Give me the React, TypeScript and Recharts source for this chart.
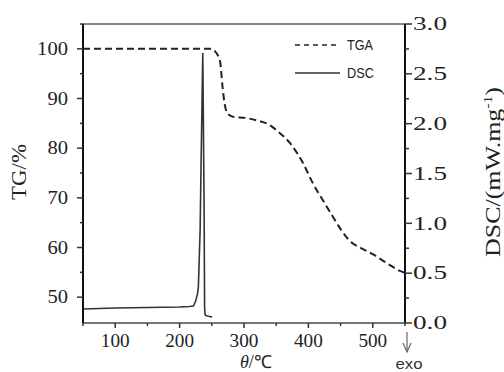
import { LineChart, Line, XAxis, YAxis, Legend, ReferenceLine } from 'recharts';

// TGA curve (temperature °C -> mass %)
const TGA_T = [50, 150, 247.6, 255, 262.9, 266.4, 269.5, 274.2, 283.5, 301.6, 319.8, 337.8, 353.3, 374, 392, 407.5, 423, 438.5, 451.5, 464.4, 480, 500.5, 521.3, 542, 550];
const TGA_V = [100, 100, 100, 99.5, 97.4, 92.7, 89.3, 87, 86.3, 86.1, 85.6, 84.8, 83.3, 80.6, 76.9, 72.8, 69.4, 66.1, 63.4, 61.3, 60, 58.6, 56.9, 55.3, 54.9];

// DSC curve (temperature °C -> mW/mg)
const DSC_T = [50, 100, 150, 200, 215, 221.5, 225, 228, 229.2, 231.9, 233.4, 236, 238, 238.8, 239.6, 243, 250.5];
const DSC_V = [0.14, 0.15, 0.155, 0.16, 0.165, 0.17, 0.22, 0.3, 0.37, 0.94, 1.62, 2.71, 1.21, 0.16, 0.08, 0.07, 0.06];

const X_MAJOR = [100, 200, 300, 400, 500];
const X_MINOR = [50, 150, 250, 350, 450, 550];
const TG_MAJOR = [50, 60, 70, 80, 90, 100];
const TG_MINOR = [55, 65, 75, 85, 95, 105];
const DSC_MAJOR = [0, 0.5, 1, 1.5, 2, 2.5, 3];
const DSC_MINOR = [0.25, 0.75, 1.25, 1.75, 2.25, 2.75];

const tgaData = TGA_T.map((t, i) => ({ t, tg: TGA_V[i] }));
const dscData = DSC_T.map((t, i) => ({ t, dsc: DSC_V[i] }));

const serif = '"Liberation Serif", "Times New Roman", serif';
const sans = '"Liberation Sans", Arial, sans-serif';

const XTick = ({ x, y, payload }: any) => {
  const major = X_MAJOR.includes(payload.value);
  const s = String(payload.value);
  return (
    <g>
      <line x1={x} x2={x} y1={y} y2={y + (major ? 5 : 3)} stroke="#333" strokeWidth={1.5} />
      {major && (
        <text x={x} y={y + 24} textAnchor="middle" fontFamily={serif} fontSize={18} fill="#222"
          textLength={s.length * 9.6} lengthAdjust="spacingAndGlyphs">
          {s}
        </text>
      )}
    </g>
  );
};

const TgTick = ({ x, y, payload }: any) => {
  const major = TG_MAJOR.includes(payload.value);
  const s = String(payload.value);
  return (
    <g>
      <line x1={x} x2={x - (major ? 6 : 3)} y1={y} y2={y} stroke="#333" strokeWidth={1.5} />
      {major && (
        <text x={x - 15} y={y} dy="0.35em" textAnchor="end" fontFamily={serif} fontSize={18} fill="#222"
          textLength={s.length * 10.3} lengthAdjust="spacingAndGlyphs">
          {s}
        </text>
      )}
    </g>
  );
};

const DscTick = ({ x, y, payload }: any) => {
  const major = DSC_MAJOR.includes(payload.value);
  return (
    <g>
      <line x1={x} x2={x + (major ? 7 : 4)} y1={y} y2={y} stroke="#333" strokeWidth={1.5} />
      {major && (
        <text x={x + 8} y={y} dy="0.35em" textAnchor="start" fontFamily={serif} fontSize={18} fill="#222"
          textLength={34} lengthAdjust="spacingAndGlyphs">
          {payload.value.toFixed(1)}
        </text>
      )}
    </g>
  );
};

const LegendBox = () => (
  <svg width={90} height={50}>
    <line x1={0} x2={45} y1={10} y2={10} stroke="#222" strokeWidth={1.5} strokeDasharray="5 4" />
    <text x={52} y={15} fontFamily={sans} fontSize={15} fill="#222" textLength={26} lengthAdjust="spacingAndGlyphs">TGA</text>
    <line x1={0} x2={45} y1={38} y2={38} stroke="#333" strokeWidth={1.5} />
    <text x={52} y={43} fontFamily={sans} fontSize={15} fill="#222" textLength={27} lengthAdjust="spacingAndGlyphs">DSC</text>
  </svg>
);

export default function App() {
  return (
    <div style={{ position: 'absolute', left: 0, top: 0, width: 504, height: 372, background: '#fff' }}>
      <LineChart width={504} height={372} margin={{ top: 24, right: 39, bottom: 19, left: 23 }}>
        <XAxis
          dataKey="t"
          type="number"
          domain={[50, 550]}
          ticks={[...X_MINOR, ...X_MAJOR].sort((a, b) => a - b)}
          interval={0}
          height={30}
          tickSize={0}
          tickMargin={0}
          tick={<XTick />}
          axisLine={{ stroke: '#777', strokeWidth: 2 }}
          allowDataOverflow
        />
        <YAxis
          yAxisId="tg"
          domain={[44.8, 105]}
          ticks={[...TG_MAJOR, ...TG_MINOR].sort((a, b) => a - b)}
          interval={0}
          width={60}
          tickSize={0}
          tickMargin={0}
          tick={<TgTick />}
          axisLine={{ stroke: '#111', strokeWidth: 2 }}
          allowDataOverflow
        />
        <YAxis
          yAxisId="dsc"
          orientation="right"
          domain={[0, 3]}
          ticks={[...DSC_MAJOR, ...DSC_MINOR].sort((a, b) => a - b)}
          interval={0}
          width={60}
          tickSize={0}
          tickMargin={0}
          tick={<DscTick />}
          axisLine={{ stroke: '#111', strokeWidth: 2 }}
          allowDataOverflow
        />
        <ReferenceLine yAxisId="tg" y={105} stroke="#888" strokeWidth={2} />
        <Line
          yAxisId="tg"
          data={tgaData}
          dataKey="tg"
          type="monotone"
          stroke="#222"
          strokeWidth={2}
          strokeDasharray="7 4"
          dot={false}
          isAnimationActive={false}
        />
        <Line
          yAxisId="dsc"
          data={dscData}
          dataKey="dsc"
          type="linear"
          stroke="#333"
          strokeWidth={1.6}
          dot={false}
          isAnimationActive={false}
        />
        <Legend
          layout="vertical"
          align="center"
          verticalAlign="middle"
          wrapperStyle={{ top: 35, left: 295, width: 90 }}
          content={<LegendBox />}
        />
      </LineChart>
      <svg width={504} height={372} style={{ position: 'absolute', left: 0, top: 0, pointerEvents: 'none' }}>
        <text transform="translate(26 172) rotate(-90)" textAnchor="middle" fontFamily={serif} fontSize={21} fill="#222"
          textLength={56} lengthAdjust="spacingAndGlyphs">
          TG/%
        </text>
        <text transform="translate(500 172) rotate(-90)" textAnchor="middle" fontFamily={serif} fontSize={20} fill="#222"
          textLength={170} lengthAdjust="spacingAndGlyphs">
          DSC/(mW.mg<tspan fontSize={12} dy={-8}>-1</tspan><tspan dy={8}>)</tspan>
        </text>
        <text x={256} y={368} textAnchor="middle" fontFamily={serif} fontSize={18} fill="#222"
          textLength={32} lengthAdjust="spacingAndGlyphs">
          <tspan fontStyle="italic">θ</tspan>/℃
        </text>
        <line x1={407} x2={407} y1={332} y2={351} stroke="#666" strokeWidth={1.2} />
        <polyline points="403,343 407,352 411,343" fill="none" stroke="#666" strokeWidth={1.2} />
        <text x={409} y={369} textAnchor="middle" fontFamily={sans} fontSize={14} fill="#333"
          textLength={27} lengthAdjust="spacingAndGlyphs">
          exo
        </text>
      </svg>
    </div>
  );
}
